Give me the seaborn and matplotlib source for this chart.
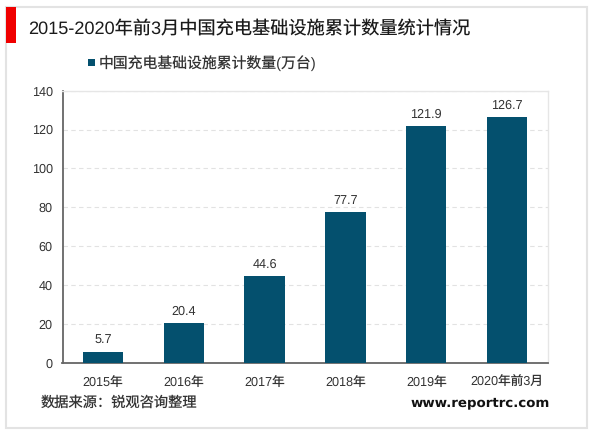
import matplotlib
matplotlib.use("Agg")
import matplotlib.pyplot as plt
from matplotlib.patches import Rectangle
import pandas as pd
import seaborn as sns

categories = ["2015年", "2016年", "2017年", "2018年", "2019年", "2020年前3月"]
values = [5.7, 20.4, 44.6, 77.7, 121.9, 126.7]
y_ticks = [0, 20, 40, 60, 80, 100, 120, 140]
series_name = "中国充电基础设施累计数量(万台)"
title = "2015-2020年前3月中国充电基础设施累计数量统计情况"
source = "数据来源：锐观咨询整理"
site = "www.reportrc.com"

BAR_COLOR = "#04506E"
TEXT_COLOR = "#333333"
W, H = 600, 433

sns.set_theme(style="white")
plt.rcParams["font.family"] = ["Liberation Sans", "Noto Sans CJK SC", "DejaVu Sans"]
plt.rcParams["text.hinting"] = "none"

df = pd.DataFrame({"category": categories, "value": values})

fig = plt.figure(figsize=(W / 100, H / 100), dpi=100, facecolor="white")

# outer frame and red title marker, in pixel coordinates of the figure
fig.add_artist(Rectangle((6 / W, 1 - 428 / H), 581 / W, 421 / H, transform=fig.transFigure,
                         facecolor="white", edgecolor="#E3E3E3", linewidth=1.5, zorder=-1))
fig.add_artist(Rectangle((6 / W, 1 - 43.3 / H), 9.7 / W, 36.6 / H, transform=fig.transFigure,
                         facecolor="#F00000", edgecolor="none", zorder=-1))

ax = fig.add_axes([62.5 / W, 1 - 362.7 / H, 485 / W, 272 / H])
ax.patch.set_alpha(0)
sns.barplot(data=df, x="category", y="value", color=BAR_COLOR, saturation=1,
            width=0.5, linewidth=0, ax=ax, zorder=3)

ax.set_xlim(-0.5, 5.5)
ax.set_ylim(0, 140)
ax.set_yticks(y_ticks)
ax.set_xlabel("")
ax.set_ylabel("")
ax.tick_params(axis="x", length=0, pad=10, labelsize=9.1, labelcolor=TEXT_COLOR)
ax.tick_params(axis="y", length=0, pad=7, labelsize=9.1, labelcolor=TEXT_COLOR)

ax.set_axisbelow(True)
ax.yaxis.grid(True, color="#E2E2E2", linewidth=0.8, linestyle=(0, (4, 3)))

# thin top and right edges as in the original plot area
for side in ["top", "right"]:
    ax.spines[side].set_visible(True)
    ax.spines[side].set_color("#E6E6E6")
    ax.spines[side].set_linewidth(1)
for side in ["left", "bottom"]:
    ax.spines[side].set_visible(True)
    ax.spines[side].set_color("#666666")
    ax.spines[side].set_linewidth(1.3)

for i, v in enumerate(values):
    ax.annotate(f"{v}", (i, v), xytext=(0, 5.8), textcoords="offset points",
                ha="center", va="baseline", fontsize=9.1, color=TEXT_COLOR, zorder=4)

fig.text(28 / W, 1 - 30 / H, title, fontsize=13.1, color="#1A1A1A", ha="left", va="center")

# legend
fig.add_artist(Rectangle((87.5 / W, 1 - 66.3 / H), 7.5 / W, 7 / H, transform=fig.transFigure,
                         facecolor=BAR_COLOR, edgecolor="none"))
fig.text(99 / W, 1 - 63 / H, series_name, fontsize=10.7, color=TEXT_COLOR, ha="left", va="center")

fig.text(41 / W, 1 - 403 / H, source, fontsize=10.25, color=TEXT_COLOR, ha="left", va="center")
fig.text(411 / W, 1 - 403 / H, site, fontsize=9.65, fontweight="bold", color="#111111",
         family=["DejaVu Sans"], ha="left", va="center")

fig.savefig("out.png", dpi=100)
